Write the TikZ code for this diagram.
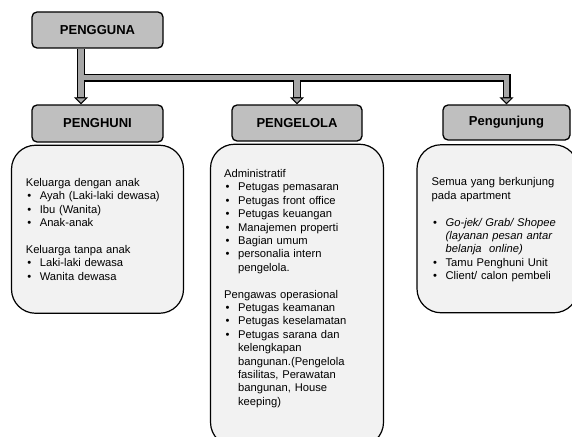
\documentclass[tikz,border=0pt]{standalone}
\usepackage{fontspec}
\setmainfont{Liberation Sans}
\usepackage{tikz}
\usetikzlibrary{arrows.meta,backgrounds,calc,positioning}

\newcommand{\bulletline}[1]{\par\noindent\hangindent=14pt\hangafter=1\hbox to 14pt{\hspace{1.5pt}\textbullet\hfil}#1}

\begin{document}
\begin{tikzpicture}[x=1pt, y=-1pt,
		header/.style={rectangle, draw=black, line width=1.3pt, fill=gray!50, rounded corners=5pt,
				font=\bfseries\fontsize{13}{15}\selectfont, minimum height=36pt},
		panel/.style={rectangle, draw=black, line width=1.2pt, fill=gray!10, rounded corners=24pt, inner sep=0pt},
		listtext/.style={inner sep=0pt, text width=#1, align=left, font=\fontsize{11.2}{13.4}\selectfont},
		pipe/.style={draw=black, line width=8pt, line join=miter,
				-{Triangle[width=14pt, length=7pt, line width=1pt, fill=gray!70]},
				postaction={draw=gray!70, line width=5.4pt, -, shorten >=7.5pt}},]
	\useasboundingbox (0,0) rectangle (572,436);

	\node (pengguna) [header, minimum width=131pt] at (97.5,30) {PENGGUNA};

	\node (penghuni) [header, minimum width=131pt, minimum height=37pt] at (97.5,123.5) {PENGHUNI};
	\node (pengelola) [header, minimum width=130pt] at (297,123) {PENGELOLA};
	\node (pengunjung) [header, minimum width=127pt, minimum height=35pt] at (506.5,122.5) {Pengunjung};

	\node (hunibox) [panel, below=2pt of penghuni, minimum width=172pt, minimum height=168pt] {};
	\node (kelolabox) [panel, below=2pt of pengelola, minimum width=173pt, minimum height=302pt] {};
	\node (kunjungbox) [panel, below=3.5pt of pengunjung, xshift=-9pt, minimum width=161pt, minimum height=168pt] {};

	\node (hunitext) [listtext=150pt, below right=33.3pt and 14.7pt of hunibox.north west] {
		Keluarga dengan anak
		\bulletline{Ayah (Laki-laki dewasa)}
		\bulletline{Ibu (Wanita)}
		\bulletline{Anak-anak}
		\par\vspace{13.4pt}\noindent Keluarga tanpa anak
		\bulletline{Laki-laki dewasa}
		\bulletline{Wanita dewasa}\par
	};

	\node (kelolatext) [listtext=155pt, below right=25.5pt and 14pt of kelolabox.north west] {
		Administratif
		\bulletline{Petugas pemasaran}
		\bulletline{Petugas front office}
		\bulletline{Petugas keuangan}
		\bulletline{Manajemen properti}
		\bulletline{Bagian umum}
		\bulletline{personalia intern\newline pengelola.}
		\par\vspace{13.4pt}\noindent Pengawas operasional
		\bulletline{Petugas keamanan}
		\bulletline{Petugas keselamatan}
		\bulletline{Petugas sarana dan\newline kelengkapan\newline bangunan.(Pengelola\newline fasilitas, Perawatan\newline bangunan, House\newline keeping)}\par
	};

	\node (kunjungtext) [listtext=145pt, below right=33.5pt and 15pt of kunjungbox.north west] {
		Semua yang berkunjung\newline pada apartment
		\par\vspace{13.4pt}
		\bulletline{{\itshape Go-jek/ Grab/ Shopee\newline (layanan pesan antar\newline belanja\ \ online)}}
		\bulletline{Tamu Penghuni Unit}
		\bulletline{Client/ calon pembeli}\par
	};

	\coordinate (split) at (81,77.5);
	\begin{scope}[on background layer]
		\draw [pipe] (pengguna.south -| split) -- (penghuni.north -| split);
		\draw [pipe] ($(split)+(2.7,0)$) -| (pengunjung.north);
		\draw [pipe] ($(split -| pengelola.north)+(0,2.7)$) -- (pengelola.north);
	\end{scope}
\end{tikzpicture}
\end{document}
